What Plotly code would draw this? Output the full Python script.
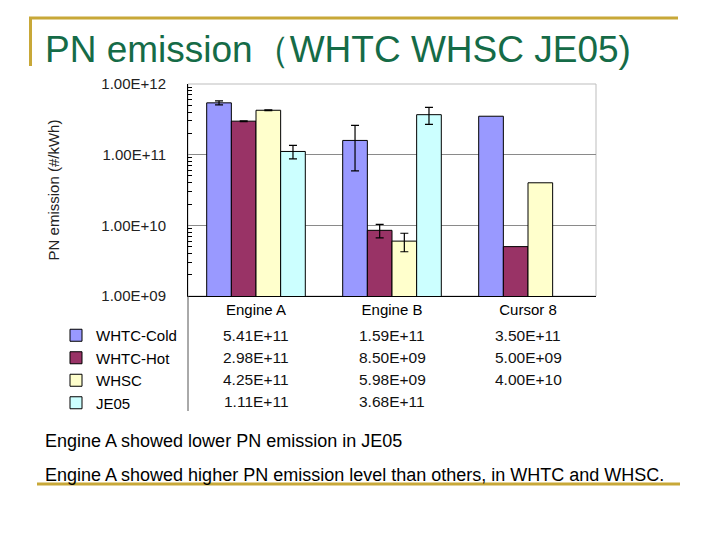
import plotly.graph_objects as go

# ---------------- data ----------------
categories = ["Engine A", "Engine B", "Cursor 8"]
series_names = ["WHTC-Cold", "WHTC-Hot", "WHSC", "JE05"]
whtc_cold = [5.41e11, 1.59e11, 3.50e11]
whtc_hot = [2.98e11, 8.50e9, 5.00e9]
whsc = [4.25e11, 5.98e9, 4.00e10]
je05 = [1.11e11, 3.68e11, None]
# error bars exist only for Engine A and Engine B
err_cold = [0.35e11, 1.0e11]
err_hot = [0.04e11, 1.85e9]
err_whsc = [0.07e11, 1.75e9]
err_je05 = [0.24e11, 1.0e11]
colors = ["#9999FF", "#993366", "#FFFFCC", "#CCFFFF"]
ytick_vals = [1e9, 1e10, 1e11, 1e12]
ytick_text = ["1.00E+09", "1.00E+10", "1.00E+11", "1.00E+12"]

values = [whtc_cold, whtc_hot, whsc, je05]
errors = [err_cold, err_hot, err_whsc, err_je05]

# ---------------- layout geometry (screen pixels) ----------------
W, H = 720, 540
OFF = 8  # page body margin
L, R, T, B = 188, 596, 84, 296
FONT = "Liberation Sans, Arial, sans-serif"


def xp(px):
    return (px - L) / (R - L)


def yp(py):
    return (B - py) / (B - T)


fig = go.Figure()
for name, vals, errs, col in zip(series_names, values, errors, colors):
    fig.add_trace(go.Bar(
        name=name, x=categories, y=vals,
        marker=dict(color=col, line=dict(color="#000000", width=1)),
        error_y=dict(type="data", array=errs, visible=True,
                     color="#000000", thickness=1.2, width=4),
    ))

annotations = []
row_y = [335, 357, 379, 401]
for vals, ry in zip(values, row_y):
    for cat, v in zip(categories, vals):
        if v is None:
            continue
        annotations.append(dict(
            x=cat, xref="x", y=yp(ry), yref="paper", text=f"{v:.2E}",
            showarrow=False, font=dict(family=FONT, size=15.5, color="#111111"),
            xanchor="center", yanchor="middle"))

# title
annotations.append(dict(
    x=xp(43), y=yp(50), xref="paper", yref="paper",
    text="PN emission（WHTC WHSC JE05)", showarrow=False,
    xanchor="left", yanchor="middle",
    font=dict(family=FONT, size=37, color="#156B47")))
# bottom text
annotations.append(dict(
    x=xp(43), y=yp(441), xref="paper", yref="paper",
    text="Engine A showed lower PN emission in JE05", showarrow=False,
    xanchor="left", yanchor="middle",
    font=dict(family=FONT, size=18, color="#000000")))
annotations.append(dict(
    x=xp(43), y=yp(475), xref="paper", yref="paper",
    text="Engine A showed higher PN emission level than others, in WHTC and WHSC.",
    showarrow=False, xanchor="left", yanchor="middle",
    font=dict(family=FONT, size=18, color="#000000")))

gold = "#C8A838"
shapes = [
    dict(type="rect", xref="paper", yref="paper", x0=0, x1=1, y0=0, y1=1,
         line=dict(color="#BDBDBD", width=1), layer="below"),
    dict(type="line", xref="paper", yref="paper", x0=0, x1=0, y0=0, y1=yp(411),
         line=dict(color="#555555", width=1)),
    dict(type="line", xref="paper", yref="paper", x0=xp(29), x1=xp(678),
         y0=yp(18), y1=yp(18), line=dict(color=gold, width=3)),
    dict(type="line", xref="paper", yref="paper", x0=xp(30.5), x1=xp(30.5),
         y0=yp(17), y1=yp(66), line=dict(color=gold, width=3)),
    dict(type="line", xref="paper", yref="paper", x0=xp(37), x1=xp(680),
         y0=yp(484), y1=yp(484), line=dict(color=gold, width=3)),
]

minor_vals = [m * d for d in (1e9, 1e10, 1e11) for m in range(2, 10)]

fig.update_layout(
    width=W, height=H,
    margin=dict(l=L - OFF, r=W - (R - OFF), t=T - OFF, b=H - (B - OFF), pad=0),
    paper_bgcolor="white", plot_bgcolor="white",
    barmode="group", bargap=0.275, bargroupgap=0,
    font=dict(family=FONT, size=14, color="#000000"),
    showlegend=True,
    legend=dict(x=xp(56), y=yp(319), xanchor="left", yanchor="top",
                font=dict(family=FONT, size=15, color="#000000"),
                bgcolor="rgba(0,0,0,0)", borderwidth=0, itemwidth=30,
                traceorder="normal"),
    xaxis=dict(showline=True, linecolor="#000000", linewidth=1, ticks="",
               tickfont=dict(family=FONT, size=15, color="#000000"),
               showgrid=False, zeroline=False),
    yaxis=dict(type="log", range=[9, 12], showline=True, linecolor="#000000",
               linewidth=1, tickmode="array", tickvals=ytick_vals,
               ticktext=ytick_text, ticks="", ticklabelstandoff=18,
               tickfont=dict(family=FONT, size=15, color="#222222"),
               showgrid=True, gridcolor="#8A8A8A", gridwidth=1, zeroline=False,
               minor=dict(tickmode="array", tickvals=minor_vals, ticks="inside",
                          ticklen=4, tickcolor="#000000", showgrid=False),
               title=dict(text="PN emission (#/kWh)", standoff=38,
                          font=dict(family=FONT, size=15, color="#222222"))),
    annotations=annotations,
    shapes=shapes,
)

fig.write_html("out.html")
